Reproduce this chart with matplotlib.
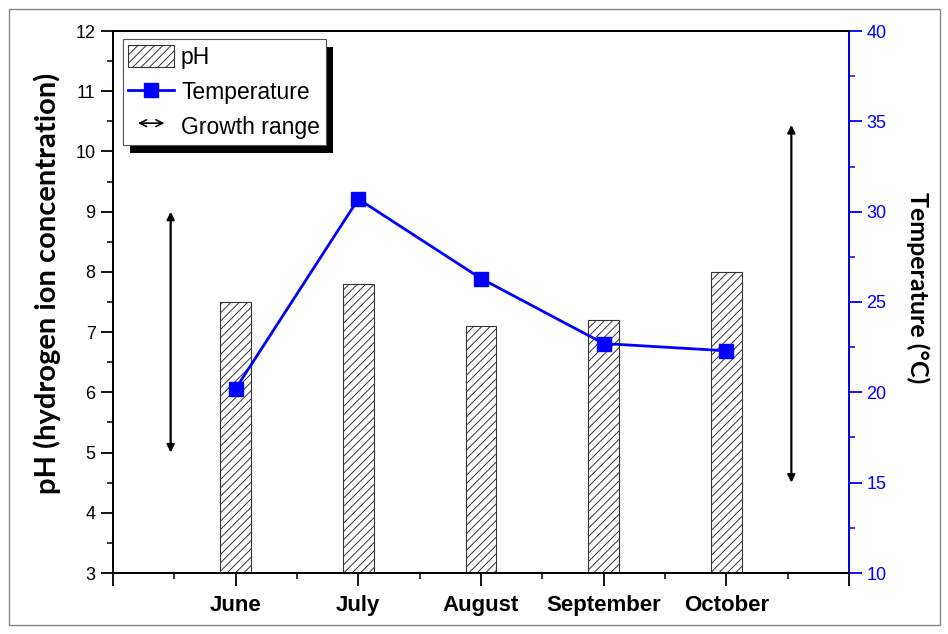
import matplotlib
matplotlib.use("Agg")
import matplotlib.pyplot as plt
from matplotlib.patches import Patch, Rectangle, FancyArrowPatch
from matplotlib.lines import Line2D
from matplotlib.legend_handler import HandlerBase
from matplotlib.ticker import MultipleLocator

months = ["June", "July", "August", "September", "October"]
ph = [7.5, 7.8, 7.1, 7.2, 8.0]
temperature = [20.2, 30.7, 26.3, 22.7, 22.3]
ph_range = [5.0, 9.0]
temp_range = [15.0, 34.8]

BLUE = "#0000ff"
plt.rcParams["font.family"] = ["Liberation Sans", "DejaVu Sans"]
plt.rcParams["hatch.linewidth"] = 0.7
plt.rcParams["hatch.color"] = "#444444"


class HandlerArrow(HandlerBase):
    def create_artists(self, legend, orig_handle, xdescent, ydescent,
                       width, height, fontsize, trans):
        arr = FancyArrowPatch((width * 0.15, height / 2), (width * 0.85, height / 2),
                              arrowstyle="<->", mutation_scale=12, lw=1.2,
                              color="black", transform=trans)
        return [arr]


fig = plt.figure(figsize=(9.48, 6.34), dpi=100)
ax = fig.add_axes([113 / 948, 61 / 634, 736 / 948, 542 / 634])
ax2 = ax.twinx()

x = list(range(1, len(months) + 1))

# pH bars
ax.bar(x, ph, width=0.25, bottom=0, facecolor="white", edgecolor="#333333",
       hatch="////", linewidth=0.8, zorder=2)
ax.set_xlim(0, 6)
ax.set_ylim(3, 12)
ax.xaxis.set_minor_locator(MultipleLocator(0.5))
ax.set_xticks(range(0, 7))
ax.set_xticklabels([""] + months + [""], fontweight="bold", fontsize=16)
ax.yaxis.set_major_locator(MultipleLocator(1))
ax.yaxis.set_minor_locator(MultipleLocator(0.5))
ax.tick_params(axis="both", which="major", direction="out", length=9, width=1.3,
               labelsize=13)
ax.tick_params(axis="both", which="minor", direction="out", length=4.5, width=1.1)
ax.tick_params(axis="x", which="major", labelsize=16, pad=7)
ax.set_ylabel("pH (hydrogen ion concentration)", family=["Lato", "DejaVu Sans"],
              fontweight="bold", fontsize=21)
ax.yaxis.set_label_coords(-0.071, 0.535)

# temperature line
ax2.plot(x, temperature, color=BLUE, lw=2, marker="s", markersize=10, zorder=3)
ax2.set_ylim(10, 40)
ax2.yaxis.set_major_locator(MultipleLocator(5))
ax2.yaxis.set_minor_locator(MultipleLocator(2.5))
ax2.tick_params(axis="y", which="major", direction="out", length=9, width=1.3,
                colors=BLUE, labelsize=13)
ax2.tick_params(axis="y", which="minor", direction="out", length=4.5, width=1.1,
                colors=BLUE)
ax2.set_ylabel("Temperature (°C)", family=["Lato", "DejaVu Sans"],
               fontweight="bold", fontsize=18, rotation=270, va="center")
ax2.yaxis.set_label_coords(1.093, 0.527)

for sp in ax.spines.values():
    sp.set_linewidth(1.3)
for sp in ax2.spines.values():
    sp.set_linewidth(1.3)
ax2.spines["right"].set_color(BLUE)

# growth range arrows
ax.annotate("", xy=(0.47, ph_range[1]), xytext=(0.47, ph_range[0]),
            arrowprops=dict(arrowstyle="<|-|>", color="black", lw=1.6,
                            mutation_scale=11, shrinkA=0, shrinkB=0))
ax2.annotate("", xy=(5.53, temp_range[1]), xytext=(5.53, temp_range[0]),
             arrowprops=dict(arrowstyle="<|-|>", color="black", lw=1.6,
                             mutation_scale=11, shrinkA=0, shrinkB=0))

# legend
handles = [Patch(facecolor="white", edgecolor="#333333", hatch="////", lw=0.8),
           Line2D([], [], color=BLUE, lw=2, marker="s", markersize=10),
           FancyArrowPatch((0, 0), (1, 0))]
labels = ["pH", "Temperature", "Growth range"]
leg = ax2.legend(handles, labels, loc="upper left", bbox_to_anchor=(0.013, 0.985),
                 fancybox=False, framealpha=1, edgecolor="#555555", fontsize=16.5,
                 handlelength=2.0, handleheight=1.1, labelspacing=0.5,
                 borderpad=0.25, handletextpad=0.3, borderaxespad=0,
                 handler_map={FancyArrowPatch: HandlerArrow()})
leg.get_frame().set_linewidth(0.8)
leg.set_zorder(10)

# shadow behind the legend
fig.canvas.draw()
bb = leg.get_window_extent().transformed(fig.transFigure.inverted())
shadow = Rectangle((bb.x0 + 7 / 948, bb.y0 - 8 / 634), bb.width, bb.height,
                   transform=fig.transFigure, facecolor="black", edgecolor="none",
                   zorder=9)
ax2.add_artist(shadow)

# outer border
fig.patches.append(Rectangle((9 / 948, 9 / 634), 931 / 948, 616 / 634,
                             transform=fig.transFigure, fill=False,
                             edgecolor="#888888", lw=1))

fig.savefig("out.png", dpi=100)
